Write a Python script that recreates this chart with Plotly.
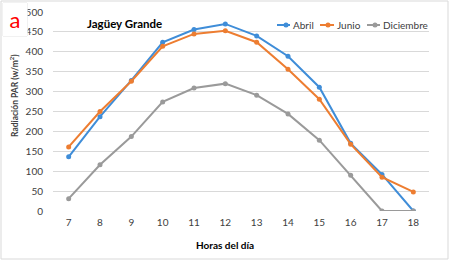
import plotly.graph_objects as go

horas = [7, 8, 9, 10, 11, 12, 13, 14, 15, 16, 17, 18]
abril = [136, 237, 328, 424, 456, 470, 440, 389, 311, 170, 92, 0]
junio = [161, 250, 326, 414, 445, 453, 424, 356, 281, 168, 85, 48]
diciembre = [31, 116, 187, 274, 309, 320, 291, 244, 178, 90, 0, 0]
y_ticks = [0, 50, 100, 150, 200, 250, 300, 350, 400, 450, 500]
series_names = ["Abril", "Junio", "Diciembre"]
series_colors = ["#3f8dd8", "#ED7D31", "#9a9a9a"]

FONT = "Lato"
fig = go.Figure()
for name, vals, col in zip(series_names, [abril, junio, diciembre], series_colors):
    fig.add_trace(go.Scatter(x=horas, y=vals, name=name, mode="lines+markers",
                             line=dict(color=col, width=2), showlegend=False,
                             marker=dict(color=col, size=5, symbol="circle")))

W, H = 450, 261
L, R, T, B = 53, 21, 12, 50
pw, ph = W - L - R, H - T - B

def px(x):
    return (x - L) / pw

def py(y):
    return 1 - (y - T) / ph

fig.update_layout(
    width=W, height=H,
    margin=dict(l=L, r=R, t=T, b=B, autoexpand=False),
    paper_bgcolor="white", plot_bgcolor="white",
    font=dict(family=FONT, size=10, color="#404040"),
    showlegend=False,
    xaxis=dict(range=[6.5, 18.5], tickmode="array", tickvals=horas, automargin=False,
               ticktext=[str(h) for h in horas], showgrid=False, zeroline=False,
               showline=False, ticks="", ticklabelstandoff=4,
               tickfont=dict(size=10, color="#404040")),
    yaxis=dict(range=[0, 500], tickmode="array", tickvals=y_ticks, automargin=False,
               showgrid=True, gridcolor="#d9d9d9", gridwidth=1, zeroline=False,
               showline=False, ticks="", ticklabelstandoff=9,
               tickfont=dict(size=10, color="#404040")),
)

# legend (drawn manually to match the compact Excel-style legend)
leg_items = [(277, 290, 286, 291), (320, 334, 328, 335), (367, 380, 375, 381)]
for (x0, x1, xm, xt), name, col in zip(leg_items, series_names, series_colors):
    fig.add_shape(type="line", xref="paper", yref="paper", x0=px(x0), x1=px(x1),
                  y0=py(25), y1=py(25), line=dict(color=col, width=2))
    fig.add_shape(type="circle", xref="paper", yref="paper", x0=px(xm - 2.5), x1=px(xm + 2.5),
                  y0=py(27.5), y1=py(22.5), line=dict(color=col, width=0), fillcolor=col)
    fig.add_annotation(text=name, xref="paper", yref="paper", x=px(xt), y=py(25),
                       xanchor="left", yanchor="middle", showarrow=False,
                       font=dict(size=10, color="#404040"))

fig.add_annotation(text="<b>Horas del día</b>", xref="paper", yref="paper",
                   x=px(224.5), y=py(245), xanchor="center", yanchor="middle",
                   showarrow=False, font=dict(size=10, color="#000000"))

fig.add_annotation(text="<b>Radiación PAR (w/m<sup>2</sup>)</b>", xref="paper", yref="paper",
                   x=px(14), y=py(96), xanchor="center", yanchor="middle", textangle=-90,
                   showarrow=False, font=dict(size=8.5, color="#404040"))

fig.add_annotation(text="<b>Jagüey Grande</b>", xref="paper", yref="paper",
                   x=px(124), y=py(23), xanchor="center", yanchor="middle",
                   showarrow=False, font=dict(size=11.5, color="#000000"))

fig.add_annotation(text="a", xref="paper", yref="paper",
                   x=px(15), y=py(19.5), xanchor="center", yanchor="middle",
                   showarrow=False, font=dict(size=22, color="#ff0000"),
                   bgcolor="white", width=22, height=31)

fig.add_shape(type="rect", xref="paper", yref="paper",
              x0=px(3), x1=px(27), y0=py(36), y1=py(3),
              line=dict(color="#c8c8c8", width=1), fillcolor="rgba(0,0,0,0)")

fig.add_shape(type="rect", xref="paper", yref="paper",
              x0=px(1), x1=px(448), y0=py(259), y1=py(1),
              line=dict(color="#d9d9d9", width=1), fillcolor="rgba(0,0,0,0)", layer="below")

fig.write_html("out.html", config={"displayModeBar": False},
               post_script="document.body.style.margin='0';document.body.style.padding='0';")
